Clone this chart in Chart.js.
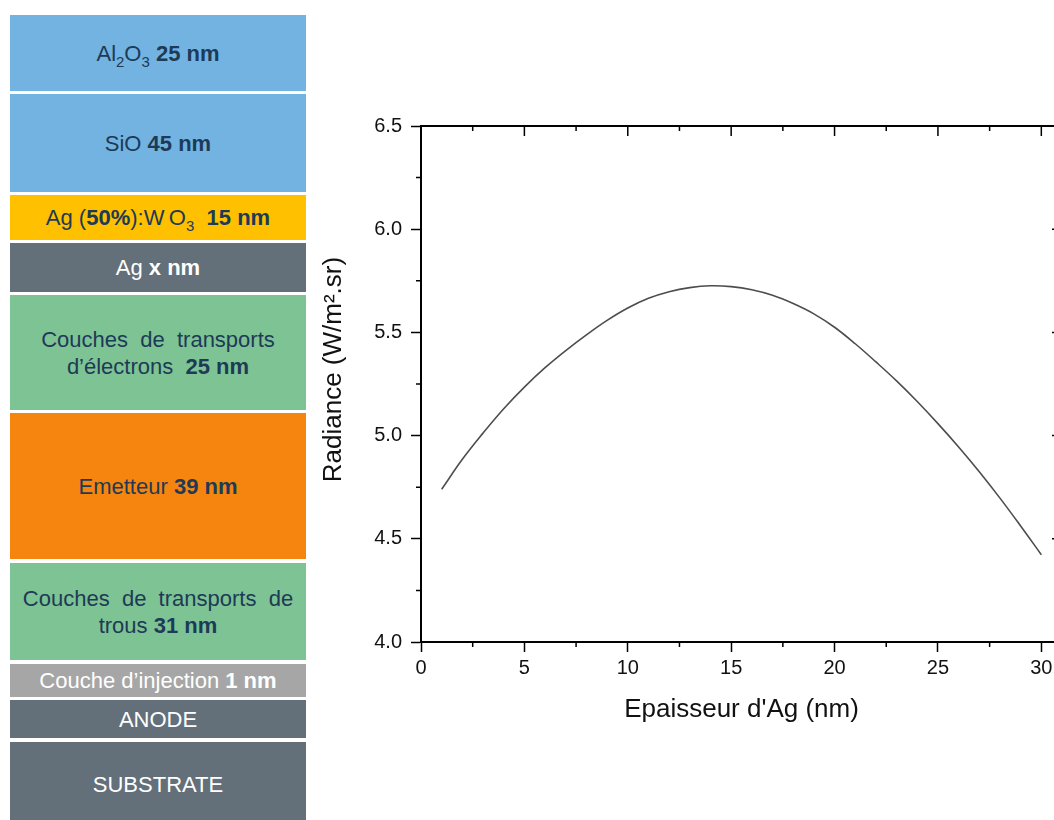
<!DOCTYPE html>
<html><head><meta charset="utf-8">
<script src="https://cdn.jsdelivr.net/npm/chart.js@4.4.1/dist/chart.umd.min.js"></script>
<style>
html,body{margin:0;padding:0;overflow:hidden;background:#fff;width:1054px;height:820px;}
#stack{position:absolute;left:10px;top:0;width:296px;height:820px;font-family:"Liberation Sans",Arial,sans-serif;font-size:22px;}
.layer{position:absolute;left:0;width:296px;display:flex;align-items:center;justify-content:center;text-align:center;line-height:27px;white-space:nowrap;color:#1d3a57;}
.light{color:#fff}
.sb{font-size:15px;position:relative;top:6px;line-height:0}
.blue{background:#72b3e1}
.yellow{background:#ffc000}
.slate{background:#637079}
.green{background:#7ec393}
.orange{background:#f5850f}
.grey{background:#a6a6a6}
#wrap{position:absolute;left:310px;top:0;width:770px;height:820px;}
</style></head>
<body>
<div id="stack">
  <div class="layer blue" style="top:15px;height:76px"><span>Al<span class="sb">2</span>O<span class="sb">3</span>&nbsp;<b>25 nm</b></span></div>
  <div class="layer blue" style="top:94px;height:98px">SiO&nbsp;<b>45 nm</b></div>
  <div class="layer yellow" style="top:195px;height:45px"><span>Ag (<b>50%</b>):W&thinsp;O<span class="sb">3</span>&nbsp;&nbsp;<b>15 nm</b></span></div>
  <div class="layer slate light" style="top:243px;height:49px">Ag&nbsp;<b>x nm</b></div>
  <div class="layer green" style="top:295px;height:115px"><span>Couches&nbsp; de&nbsp; transports<br>d’électrons&nbsp; <b>25 nm</b></span></div>
  <div class="layer orange" style="top:413px;height:146px">Emetteur&nbsp; <b>39 nm</b></div>
  <div class="layer green" style="top:563px;height:97px"><span>Couches&nbsp; de&nbsp; transports&nbsp; de<br>trous&nbsp;<b>31 nm</b></span></div>
  <div class="layer grey light" style="top:664px;height:33px">Couche d’injection&nbsp;<b>1 nm</b></div>
  <div class="layer slate light" style="top:700px;height:38px">ANODE</div>
  <div class="layer slate light" style="top:742px;height:85px">SUBSTRATE</div>
</div>
<div id="wrap"><canvas id="c"></canvas></div>
<script>
// Data
const thickness = [1,2,3,4,5,6,7,8,9,10,11,12,13,14,15,16,17,18,19,20,21,22,23,24,25,26,27,28,29,30];
const radiance  = [4.74,4.885,5.012,5.13,5.235,5.329,5.412,5.488,5.558,5.618,5.665,5.697,5.717,5.726,5.722,5.707,5.68,5.64,5.59,5.525,5.445,5.357,5.265,5.165,5.058,4.945,4.825,4.697,4.562,4.423];
const xTickValues = [0,5,10,15,20,25,30];
const xMinorTicks = [2.5,7.5,12.5,17.5,22.5,27.5];
const yTickValues = [4.0,4.5,5.0,5.5,6.0,6.5];
const yTickLabels = ['4.0','4.5','5.0','5.5','6.0','6.5'];
const yMinorTicks = [4.25,4.75,5.25,5.75,6.25];
const xTitle = "Epaisseur d'Ag (nm)";
const yTitle = "Radiance (W/m².sr)";

const points = thickness.map((t,i)=>({x:t,y:radiance[i]}));

const framePlugin = {
  id:'frame',
  afterDraw(chart){
    const {ctx, chartArea:a, scales:{x,y}} = chart;
    ctx.save();
    ctx.strokeStyle='#000';
    ctx.lineWidth=2;
    ctx.beginPath();
    ctx.moveTo(a.left, a.top); ctx.lineTo(a.right, a.top); ctx.lineTo(a.right, a.bottom);
    ctx.stroke();
    ctx.lineWidth=1.5;
    ctx.beginPath();
    xTickValues.forEach(v=>{const p=x.getPixelForValue(v); ctx.moveTo(p,a.top); ctx.lineTo(p,a.top+10);});
    xMinorTicks.forEach(v=>{const p=x.getPixelForValue(v); ctx.moveTo(p,a.top); ctx.lineTo(p,a.top+5); ctx.moveTo(p,a.bottom); ctx.lineTo(p,a.bottom+5);});
    yTickValues.forEach(v=>{const p=y.getPixelForValue(v); ctx.moveTo(a.right,p); ctx.lineTo(a.right-10,p);});
    yMinorTicks.forEach(v=>{const p=y.getPixelForValue(v); ctx.moveTo(a.left,p); ctx.lineTo(a.left-5,p); ctx.moveTo(a.right,p); ctx.lineTo(a.right-5,p);});
    ctx.stroke();
    ctx.restore();
  }
};

const font = '"Liberation Sans", Arial, sans-serif';
new Chart(document.getElementById('c'), {
  type:'line',
  data:{datasets:[{data:points, borderColor:'#4d4d4d', borderWidth:1.6, pointRadius:0, tension:0.4, fill:false}]},
  options:{
    responsive:true, maintainAspectRatio:false, animation:false,
    layout:{padding:{left:0, top:126, right:18, bottom:78}},
    plugins:{legend:{display:false}, tooltip:{enabled:false}},
    scales:{
      x:{type:'linear', min:0, max:31,
        afterBuildTicks(s){ s.ticks = xTickValues.map(v=>({value:v})); },
        afterFit(s){ s.height = 100; },
        grid:{drawOnChartArea:false, drawTicks:true, tickLength:10, tickWidth:1.5, tickColor:'#000'},
        border:{display:true, color:'#000', width:2},
        ticks:{padding:4, color:'#111', font:{family:font, size:20}, maxRotation:0, autoSkip:false, callback:(v)=>String(v)},
        title:{display:true, text:xTitle, color:'#111', font:{family:font, size:26}, padding:{top:0,bottom:17}}
      },
      y:{type:'linear', min:4, max:6.5,
        afterBuildTicks(s){ s.ticks = yTickValues.map(v=>({value:v})); },
        afterFit(s){ s.width = 111; },
        grid:{drawOnChartArea:false, drawTicks:true, tickLength:10, tickWidth:1.5, tickColor:'#000'},
        border:{display:true, color:'#000', width:2},
        ticks:{padding:9, color:'#111', font:{family:font, size:20}, autoSkip:false, callback:(v)=>yTickLabels[yTickValues.indexOf(v)] ?? ''},
        title:{display:true, text:'\u00a0\u00a0\u00a0\u00a0'+yTitle, color:'#111', font:{family:font, size:26}, padding:{top:8,bottom:0}}
      }
    }
  },
  plugins:[framePlugin]
});
</script>
</body></html>
